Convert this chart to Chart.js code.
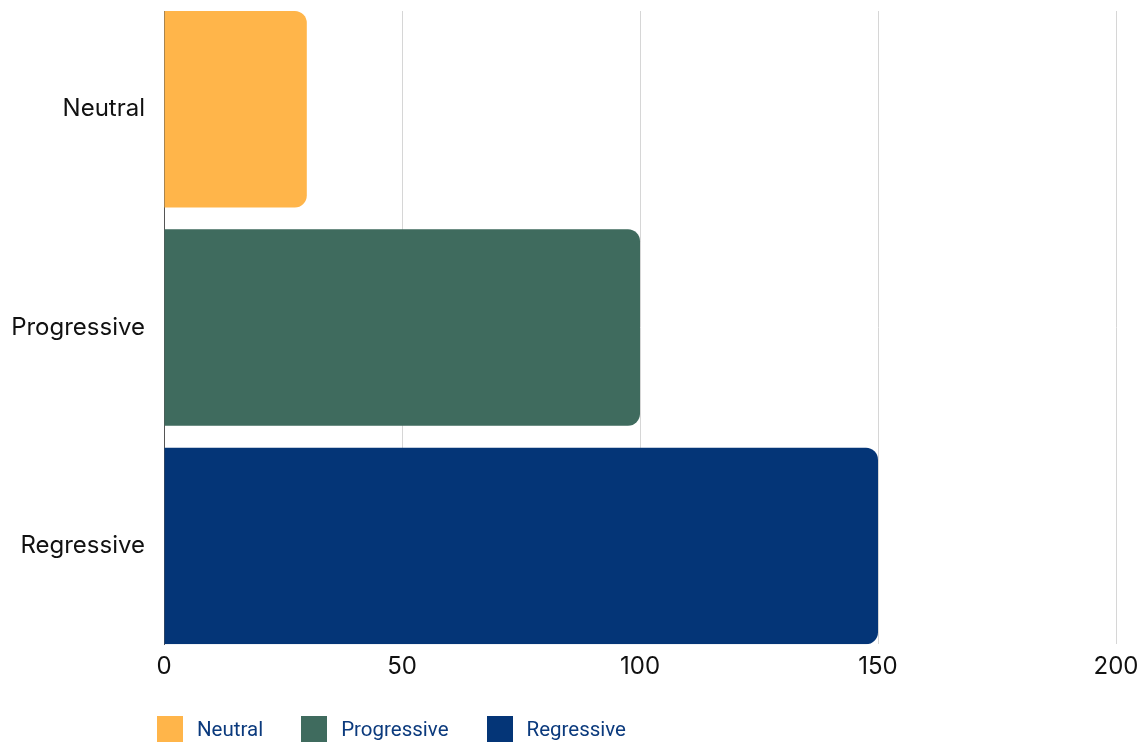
<!DOCTYPE html>
<html><head><meta charset="utf-8">
<script src="https://cdn.jsdelivr.net/npm/chart.js@4"></script>
<style>
html,body{margin:0;padding:0;background:#fff;}
#wrap{position:relative;width:1142px;height:742px;overflow:hidden;}
canvas{display:block;}
#legend{position:absolute;left:157px;top:716px;display:flex;align-items:center;font-family:Roboto,sans-serif;font-size:20.5px;color:#0b3a7d;white-space:nowrap;}
.item{display:flex;align-items:center;margin-right:38px;}
.box{width:26px;height:26px;margin-right:14px;}
</style></head><body>
<div id="wrap"><canvas id="c" width="1142" height="742"></canvas><div id="legend"></div></div>
<script>
const categories = ['Neutral', 'Progressive', 'Regressive'];
const values = [30, 100, 150];
const colors = ['#FFB54A', '#3F6B5E', '#043577'];
const xTicks = [0, 50, 100, 150, 200];

function build() {
  const datasets = categories.map((c, i) => ({
    label: c,
    data: [{ x: values[i], y: i }],
    backgroundColor: colors[i],
    grouped: false,
    categoryPercentage: 1,
    barPercentage: 0.9,
    borderRadius: 12,
    borderSkipped: 'start'
  }));

  const chart = new Chart(document.getElementById('c'), {
    type: 'bar',
    data: { datasets },
    options: {
      indexAxis: 'y',
      responsive: false,
      animation: false,
      layout: { padding: { left: 10, right: 26, top: 11, bottom: 53 } },
      plugins: { legend: { display: false }, tooltip: { enabled: false } },
      scales: {
        x: {
          type: 'linear',
          min: xTicks[0],
          max: xTicks[xTicks.length - 1],
          afterBuildTicks: s => { s.ticks = xTicks.map(v => ({ value: v })); },
          afterFit: s => { s.paddingLeft = 0; s.paddingRight = 0; },
          ticks: { font: { family: 'Inter', size: 24 }, color: '#111', padding: 8 },
          grid: { color: '#d6d6d6', lineWidth: 1, drawTicks: false },
          border: { display: false }
        },
        y: {
          type: 'linear',
          reverse: true,
          offset: false,
          min: -0.45,
          max: categories.length - 0.55,
          afterBuildTicks: s => { s.ticks = categories.map((c, i) => ({ value: i })); },
          afterFit: s => { s.paddingTop = 0; s.paddingBottom = 0; s.width = 154; },
          ticks: { callback: v => categories[v], font: { family: 'Inter', size: 24 }, color: '#111', padding: 19 },
          grid: { display: false, drawTicks: false, offset: false },
          border: { display: true, color: '#555', width: 1 }
        }
      }
    }
  });

  const legendEl = document.getElementById('legend');
  chart.options.plugins.legend.labels.generateLabels(chart).forEach(item => {
    const d = document.createElement('div'); d.className = 'item';
    const b = document.createElement('span'); b.className = 'box'; b.style.background = item.fillStyle;
    const t = document.createElement('span'); t.textContent = item.text;
    d.appendChild(b); d.appendChild(t); legendEl.appendChild(d);
  });
}

let built = false;
function once() { if (!built) { built = true; build(); } }
if (document.fonts && document.fonts.load) {
  Promise.all([document.fonts.load('24px Inter'), document.fonts.load('20px Roboto')]).then(once, once);
  setTimeout(once, 1500);
} else { once(); }
</script>
</body></html>
